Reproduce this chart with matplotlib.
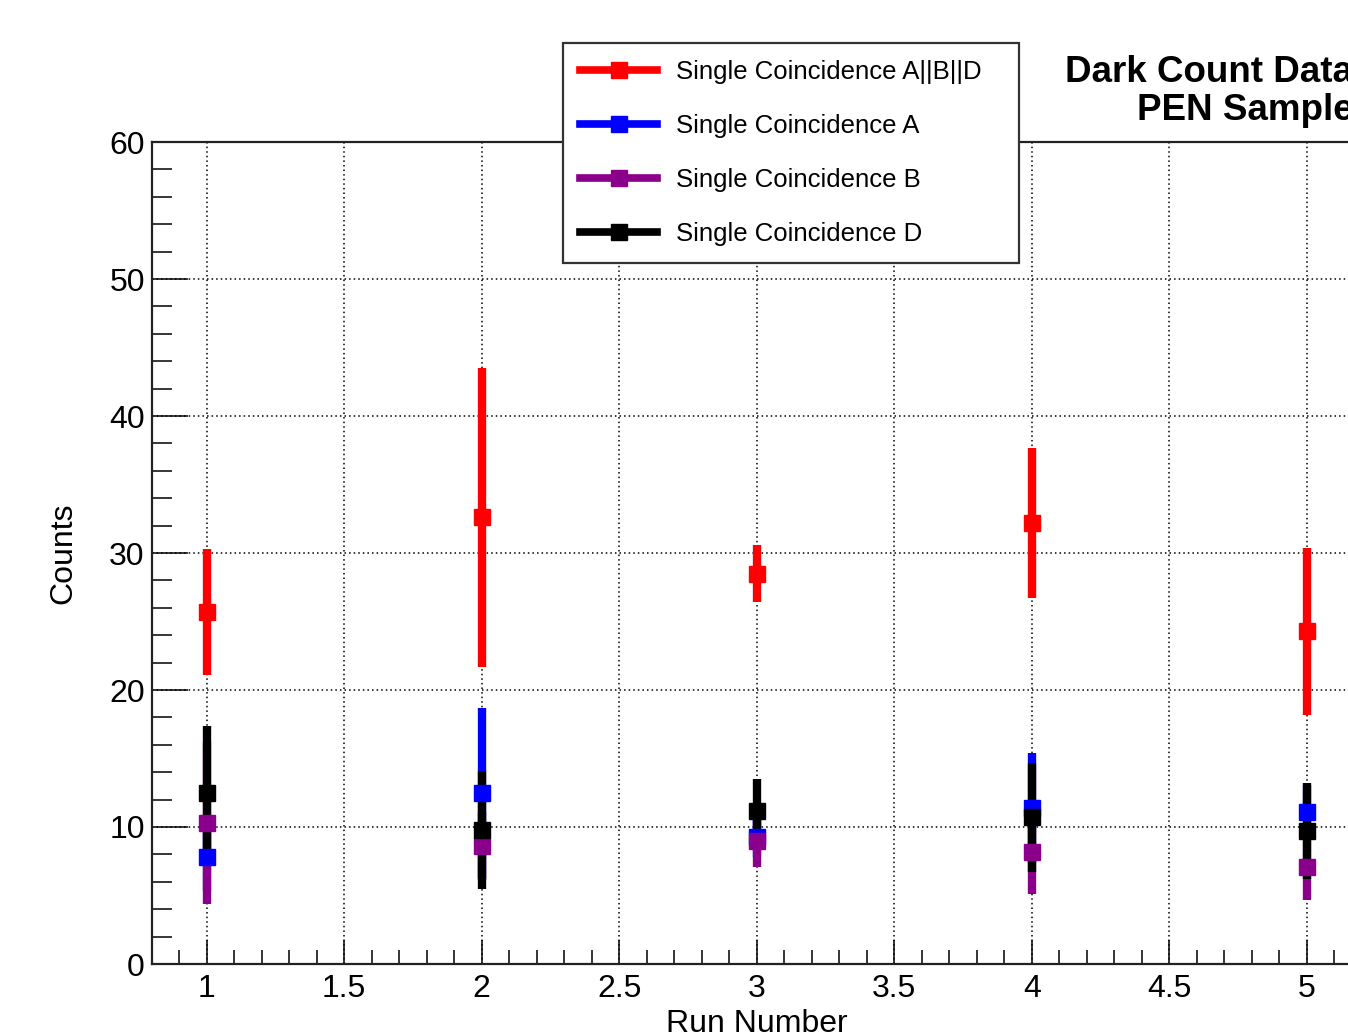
import matplotlib
matplotlib.use("Agg")
import matplotlib.pyplot as plt
from matplotlib.ticker import MultipleLocator

plt.rcParams['font.family'] = ['Liberation Sans', 'DejaVu Sans']

runs = [1, 2, 3, 4, 5]
labels = ["Single Coincidence A||B||D", "Single Coincidence A",
          "Single Coincidence B", "Single Coincidence D"]
colors = ["#ff0000", "#0000ff", "#8b008b", "#000000"]

abd_vals = [25.7, 32.6, 28.5, 32.2, 24.3]
abd_errs = [4.6, 10.9, 2.1, 5.5, 6.1]
a_vals = [7.8, 12.5, 9.3, 11.4, 11.1]
a_errs = [2.5, 6.2, 1.5, 4.0, 2.0]
b_vals = [10.3, 8.6, 9.0, 8.2, 7.1]
b_errs = [5.9, 2.5, 1.9, 3.1, 2.4]
d_vals = [12.5, 9.8, 11.2, 10.7, 9.7]
d_errs = [4.9, 4.3, 2.3, 4.0, 3.5]

series = [(abd_vals, abd_errs), (a_vals, a_errs), (b_vals, b_errs), (d_vals, d_errs)]

W, H = 1348, 1036
fig = plt.figure(figsize=(W / 100, H / 100), dpi=100)
ax_l, ax_r, ax_t, ax_b = 151.7, 1362, 142, 964
ax = fig.add_axes([ax_l / W, 1 - ax_b / H, (ax_r - ax_l) / W, (ax_b - ax_t) / H])

handles = []
for (vals, errs), c, lab in zip(series, colors, labels):
    ax.errorbar(runs, vals, yerr=errs, fmt='s', color=c, ecolor=c,
                elinewidth=6, markersize=11.5, capsize=0, linestyle='none')
    h, = ax.plot([], [], color=c, lw=5.5, marker='s', markersize=11.5, label=lab)
    handles.append(h)

ax.set_xlim(0.8, 5.2)
ax.set_ylim(0, 60)
ax.xaxis.set_major_locator(MultipleLocator(0.5))
ax.xaxis.set_minor_locator(MultipleLocator(0.1))
ax.yaxis.set_major_locator(MultipleLocator(10))
ax.yaxis.set_minor_locator(MultipleLocator(2))
ax.set_xticks([1, 1.5, 2, 2.5, 3, 3.5, 4, 4.5, 5])
ax.set_xticklabels(["1", "1.5", "2", "2.5", "3", "3.5", "4", "4.5", "5"])

ax.tick_params(axis='x', which='major', direction='in', length=17, width=1.1,
               labelsize=23, pad=7, top=False)
ax.tick_params(axis='x', which='minor', direction='in', length=10, width=1.1, top=False)
ax.tick_params(axis='y', which='major', direction='in', length=26, width=1.1,
               labelsize=23, pad=5, right=False)
ax.tick_params(axis='y', which='minor', direction='in', length=14.5, width=1.1, right=False)

ax.grid(True, which='major', color='black', linestyle=(0, (1, 2)), linewidth=1.1)
for s in ax.spines.values():
    s.set_linewidth(1.6)
    s.set_color('#222222')

ax.set_xlabel("Run Number", fontsize=23, labelpad=4)
ax.set_ylabel("Counts", fontsize=23, labelpad=22)

leg_x0, leg_x1, leg_y0, leg_y1 = 563, 1019, 43, 258
leg = fig.legend(handles=handles, loc='upper left',
                 bbox_to_anchor=(leg_x0 / W, 1 - leg_y1 / H, (leg_x1 - leg_x0) / W, (leg_y1 - leg_y0) / H),
                 mode='expand', fontsize=18.5, frameon=True, fancybox=False,
                 borderpad=0.66, labelspacing=1.17, handlelength=3.0, handletextpad=0.74,
                 borderaxespad=0.0)
leg.get_frame().set_edgecolor('#333333')
leg.get_frame().set_linewidth(1.6)
leg.get_frame().set_alpha(1)

fig.text(1065 / W, 1 - 82 / H, "Dark Count Data", fontsize=26.5, fontweight='bold',
         ha='left', va='baseline')
fig.text(1137 / W, 1 - 120 / H, "PEN Sample", fontsize=26.5, fontweight='bold',
         ha='left', va='baseline')

fig.savefig("out.png", dpi=100)
